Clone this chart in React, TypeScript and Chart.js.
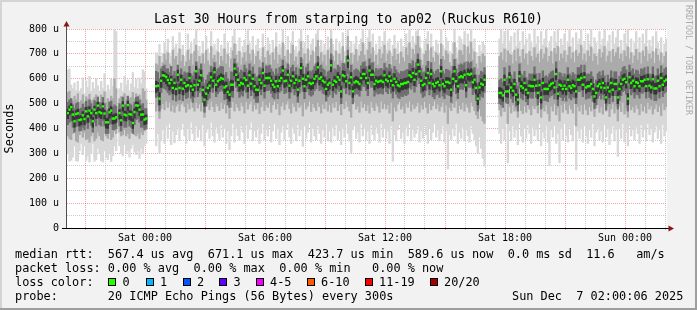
import React, { useEffect, useRef } from 'react';
import { Chart, registerables } from 'chart.js';

Chart.register(...registerables);

const _ = null;
type V = number | null;

// ---- time base (hours relative to Sat 00:00), 5-minute steps ----
const START_HOUR = -3.9;
const STEP_HOURS = 5 / 60;
const X_MIN = -3.9;
const X_MAX = 26.1;

// ---- median RTT (microseconds) per 5 min step ----
const MEDIAN: V[] = [
  462, 476, 486, 456, 429, 458, 461, 434, 436, 453,
  438, 469, 449, 472, 462, 429, 476, 462, 492, 466,
  462, 489, 460, 425, 425, 465, 472, 440, 440, 445,
  _, 462, 433, 492, 456, 453, 494, 458, 456, 422,
  466, 493, 492, 476, 456, 456, 436, 440, _, _,
  _, _, _, 570, 572, 520, 592, 614, 612, 607,
  595, 582, 596, 563, 583, 559, 616, 563, 596, 560,
  583, 570, 574, 603, 570, 556, 574, 630, 576, 592,
  614, 555, 516, 540, 563, 572, 606, 592, 626, 576,
  590, 596, 603, 599, 565, 570, 547, 536, 576, 576,
  641, 616, 596, 574, 583, 579, 603, 595, 572, 614,
  580, 600, 570, 556, 555, 596, 583, 623, 572, 603,
  603, 603, 592, 576, 567, 590, 570, 592, 603, 633,
  590, 592, 616, 572, 592, 610, 583, 596, 556, 592,
  643, 600, 570, 596, 610, 583, 579, 583, 600, 610,
  646, 600, 606, 592, 586, 559, 576, 583, 654, 576,
  592, 587, 606, 596, 549, 614, 610, 590, 673, 583,
  606, 549, 585, 590, 586, 579, 603, 619, 619, 603,
  583, 633, 616, 616, 579, 592, 587, 590, 592, 587,
  614, 596, 590, 610, 592, 574, 600, 587, 574, 570,
  579, 579, 583, 583, 587, 614, 608, 623, 596, 619,
  657, 630, 592, 574, 579, 603, 623, 583, 619, 579,
  570, 583, 587, 574, 630, 579, 570, 587, 587, 583,
  556, 600, 630, 590, 570, 606, 610, 606, 616, 574,
  619, 616, 620, 586, 596, 563, 520, 565, 580, 576,
  596, _, _, _, _, _, _, _, _, 543,
  543, 533, 596, 549, 549, 606, 565, 552, 579, 536,
  516, 610, 570, 563, 583, 556, 543, 572, 570, 570,
  596, 572, 543, 574, 525, 583, 559, 559, 559, 572,
  579, 583, 565, 619, 540, 576, 572, 559, 572, 559,
  596, 570, 563, 574, 570, 549, 596, 596, 603, 576,
  606, 565, 570, 570, 579, 559, 529, 543, 570, 579,
  565, 583, 563, 525, 565, 549, 583, 556, 579, 579,
  525, 559, 579, 596, 600, 586, 520, 606, 583, 592,
  570, 586, 583, 570, 590, 590, 596, 570, 598, 572,
  565, 598, 561, 561, 592, 570, 603, 576, 590, 596,
];

// ---- outer smoke: min / max ping ----
const MAX_PING: V[] = [
  636, 640, 575, 560, 583, 552, 590, 548, 560, 603,
  540, 592, 565, 610, 548, 585, 560, 600, 572, 545,
  590, 560, 620, 548, 575, 556, 598, 570, 800, 790,
  _, 560, 583, 548, 610, 575, 595, 552, 580, 625,
  565, 598, 560, 603, 580, 636, 628, 560, _, _,
  _, _, _, 705, 700, 738, 690, 700, 745, 715,
  760, 700, 690, 770, 725, 740, 700, 785, 718, 735,
  690, 705, 780, 720, 745, 700, 760, 800, 712, 730,
  695, 750, 705, 770, 720, 700, 790, 725, 740, 715,
  760, 698, 735, 720, 780, 705, 745, 690, 725, 770,
  800, 740, 710, 765, 700, 730, 755, 712, 800, 745,
  718, 770, 700, 735, 760, 722, 690, 780, 730, 705,
  765, 740, 700, 755, 720, 785, 705, 740, 725, 800,
  735, 712, 770, 700, 745, 790, 715, 730, 700, 760,
  800, 722, 745, 700, 775, 715, 740, 760, 705, 780,
  800, 730, 755, 712, 740, 700, 768, 725, 800, 738,
  715, 760, 700, 745, 720, 785, 710, 735, 800, 728,
  750, 705, 740, 770, 715, 738, 760, 800, 740, 720,
  765, 800, 745, 780, 712, 740, 700, 770, 728, 750,
  790, 715, 745, 760, 700, 735, 775, 720, 745, 705,
  760, 730, 712, 780, 740, 800, 725, 770, 745, 790,
  800, 770, 720, 700, 745, 760, 790, 715, 780, 730,
  712, 755, 740, 700, 800, 735, 720, 765, 750, 710,
  695, 745, 800, 725, 705, 770, 760, 740, 790, 715,
  780, 745, 800, 720, 760, 705, 690, 735, 710, 748,
  735, _, _, _, _, _, _, _, _, 760,
  800, 740, 790, 720, 800, 745, 770, 705, 785, 730,
  800, 750, 715, 790, 735, 760, 700, 780, 745, 725,
  800, 740, 770, 710, 790, 735, 760, 800, 720, 745,
  770, 705, 790, 745, 800, 725, 760, 735, 780, 715,
  745, 800, 730, 765, 710, 785, 740, 760, 800, 725,
  750, 715, 780, 740, 800, 720, 765, 745, 700, 790,
  735, 760, 800, 720, 745, 775, 710, 790, 740, 765,
  800, 730, 755, 715, 780, 740, 800, 725, 760, 705,
  745, 790, 720, 765, 700, 780, 740, 800, 715, 755,
  730, 770, 705, 790, 745, 720, 765, 700, 740, 760,
];

const MIN_PING: V[] = [
  300, 268, 272, 285, 330, 270, 268, 310, 340, 295,
  330, 272, 290, 265, 300, 340, 268, 275, 320, 300,
  270, 265, 310, 285, 275, 300, 268, 290, 330, 310,
  _, 330, 300, 290, 335, 300, 310, 285, 320, 335,
  305, 295, 310, 280, 320, 300, 330, 340, _, _,
  _, _, _, 330, 380, 302, 350, 395, 340, 410,
  360, 420, 335, 390, 342, 375, 405, 350, 395, 420,
  370, 340, 400, 355, 425, 380, 350, 410, 365, 395,
  350, 415, 330, 385, 400, 360, 425, 370, 345, 405,
  380, 355, 415, 365, 400, 340, 390, 315, 370, 420,
  345, 400, 372, 355, 410, 385, 340, 415, 360, 395,
  425, 350, 390, 365, 405, 340, 380, 420, 355, 395,
  370, 410, 345, 390, 420, 360, 400, 335, 385, 410,
  355, 395, 420, 365, 340, 405, 380, 350, 415, 370,
  395, 328, 410, 360, 385, 420, 345, 400, 370, 355,
  410, 380, 340, 395, 365, 420, 350, 390, 345, 405,
  370, 415, 355, 390, 335, 400, 365, 420, 380, 350,
  302, 395, 410, 360, 385, 345, 420, 370, 400, 355,
  390, 340, 415, 375, 355, 405, 380, 345, 420, 365,
  400, 360, 390, 340, 410, 268, 375, 350, 395, 415,
  360, 385, 340, 405, 370, 420, 350, 395, 365, 380,
  410, 345, 390, 360, 415, 375, 340, 400, 355, 385,
  420, 365, 395, 350, 380, 410, 345, 390, 237, 375,
  355, 400, 370, 420, 340, 385, 360, 405, 350, 395,
  370, 345, 410, 380, 355, 330, 300, 365, 320, 280,
  248, _, _, _, _, _, _, _, _, 380,
  340, 400, 355, 420, 262, 390, 350, 410, 365, 395,
  335, 420, 370, 345, 400, 360, 415, 380, 340, 405,
  370, 395, 350, 420, 330, 385, 360, 410, 345, 250,
  395, 365, 410, 340, 380, 262, 400, 355, 420, 370,
  345, 405, 375, 350, 415, 234, 390, 360, 400, 345,
  410, 370, 340, 395, 365, 420, 330, 385, 405, 355,
  390, 345, 415, 365, 400, 335, 380, 410, 350, 395,
  288, 400, 360, 420, 345, 385, 330, 410, 370, 395,
  355, 405, 380, 340, 415, 365, 395, 350, 420, 375,
  400, 345, 385, 410, 360, 395, 340, 415, 370, 390,
];

// ---- second smoke band ----
const HI2: V[] = [
  545, 550, 520, 510, 530, 515, 540, 505, 512, 535,
  505, 528, 520, 538, 510, 515, 525, 535, 530, 505,
  535, 518, 548, 505, 520, 512, 530, 520, 600, 560,
  _, 520, 528, 530, 540, 515, 530, 520, 525, 545,
  520, 540, 525, 535, 515, 560, 550, 515, _, _,
  _, _, _, 660, 655, 690, 650, 665, 700, 675,
  705, 660, 648, 715, 680, 690, 655, 720, 670, 695,
  650, 668, 715, 675, 700, 655, 710, 735, 668, 690,
  652, 700, 660, 715, 672, 655, 730, 680, 695, 668,
  708, 655, 690, 672, 720, 660, 698, 645, 680, 712,
  740, 695, 665, 710, 655, 685, 705, 668, 735, 700,
  672, 715, 658, 690, 710, 675, 648, 725, 685, 660,
  712, 695, 655, 705, 675, 728, 660, 695, 680, 745,
  690, 668, 715, 655, 700, 735, 670, 688, 655, 710,
  750, 678, 700, 655, 720, 670, 695, 712, 660, 728,
  755, 685, 705, 668, 695, 652, 715, 680, 760, 692,
  670, 712, 655, 700, 672, 730, 665, 690, 770, 682,
  702, 660, 695, 718, 670, 692, 710, 745, 695, 675,
  715, 748, 700, 725, 668, 695, 655, 718, 682, 700,
  735, 670, 700, 712, 655, 690, 720, 675, 698, 660,
  708, 685, 668, 725, 695, 745, 680, 718, 698, 735,
  770, 725, 675, 655, 698, 712, 738, 670, 725, 685,
  668, 705, 695, 655, 740, 690, 675, 712, 700, 665,
  650, 698, 745, 680, 660, 715, 712, 695, 735, 670,
  728, 700, 748, 675, 708, 660, 640, 690, 665, 700,
  690, _, _, _, _, _, _, _, _, 690,
  705, 675, 720, 665, 712, 700, 695, 660, 715, 670,
  720, 690, 665, 718, 680, 700, 655, 710, 690, 672,
  725, 685, 700, 665, 718, 680, 700, 725, 668, 690,
  710, 660, 722, 700, 730, 672, 700, 682, 712, 665,
  695, 728, 680, 705, 665, 715, 690, 702, 735, 675,
  700, 668, 712, 690, 728, 670, 700, 690, 655, 718,
  685, 705, 730, 668, 692, 710, 665, 718, 690, 705,
  725, 680, 700, 670, 712, 690, 728, 680, 705, 662,
  692, 718, 675, 705, 660, 712, 690, 728, 670, 700,
  680, 710, 662, 720, 695, 672, 705, 660, 690, 708,
];

const LO2: V[] = [
  370, 360, 355, 380, 385, 350, 345, 375, 390, 365,
  385, 355, 360, 345, 370, 395, 350, 360, 385, 370,
  355, 350, 380, 370, 360, 380, 355, 365, 390, 380,
  _, 385, 370, 375, 395, 370, 380, 360, 385, 400,
  375, 370, 380, 360, 385, 375, 390, 395, _, _,
  _, _, _, 470, 490, 440, 480, 500, 475, 510,
  485, 505, 470, 495, 465, 490, 500, 470, 498, 505,
  488, 465, 500, 478, 510, 485, 470, 505, 482, 498,
  470, 505, 445, 490, 500, 475, 510, 488, 468, 500,
  490, 472, 505, 480, 498, 462, 495, 440, 485, 508,
  470, 500, 485, 472, 505, 490, 462, 508, 478, 498,
  510, 470, 495, 478, 502, 460, 488, 510, 472, 495,
  485, 505, 465, 495, 510, 478, 500, 455, 490, 505,
  475, 498, 510, 480, 462, 502, 488, 470, 508, 485,
  495, 450, 505, 478, 490, 510, 468, 500, 485, 472,
  505, 488, 462, 498, 480, 510, 470, 495, 465, 502,
  485, 508, 472, 495, 455, 500, 480, 510, 488, 470,
  445, 498, 505, 478, 490, 465, 510, 485, 500, 472,
  495, 462, 508, 485, 472, 502, 490, 465, 510, 480,
  500, 478, 495, 462, 505, 430, 485, 470, 498, 508,
  478, 490, 462, 502, 485, 510, 470, 498, 480, 490,
  505, 465, 495, 478, 508, 485, 462, 500, 475, 492,
  510, 480, 498, 470, 488, 505, 465, 495, 420, 485,
  472, 500, 485, 510, 462, 492, 478, 505, 470, 498,
  485, 465, 505, 490, 472, 455, 440, 480, 450, 430,
  420, _, _, _, _, _, _, _, _, 475,
  450, 485, 468, 500, 420, 488, 462, 495, 470, 480,
  445, 500, 472, 460, 490, 465, 498, 478, 455, 492,
  480, 490, 462, 505, 445, 485, 470, 495, 460, 430,
  490, 470, 498, 455, 482, 430, 495, 465, 502, 475,
  460, 495, 478, 462, 500, 410, 488, 470, 495, 458,
  498, 475, 455, 488, 470, 505, 448, 482, 496, 465,
  488, 458, 500, 470, 492, 448, 478, 498, 462, 490,
  430, 490, 468, 505, 458, 482, 445, 498, 475, 488,
  465, 495, 480, 455, 500, 470, 490, 462, 505, 478,
  492, 458, 480, 498, 468, 490, 452, 502, 475, 488,
];

// ---- third smoke band ----
const HI3: V[] = [
  505, 515, 520, 495, 480, 500, 505, 478, 482, 498,
  485, 510, 490, 515, 500, 475, 512, 505, 525, 505,
  500, 525, 500, 470, 475, 505, 510, 485, 495, 490,
  _, 500, 480, 525, 495, 495, 530, 500, 495, 468,
  505, 525, 528, 515, 495, 500, 480, 480, _, _,
  _, _, _, 630, 625, 600, 640, 650, 655, 640,
  640, 625, 650, 615, 630, 612, 655, 620, 640, 615,
  628, 622, 625, 650, 620, 610, 628, 668, 625, 640,
  660, 605, 580, 595, 615, 625, 650, 640, 665, 630,
  640, 645, 650, 648, 615, 625, 600, 590, 628, 625,
  680, 660, 645, 625, 635, 628, 655, 640, 625, 660,
  630, 648, 620, 605, 610, 645, 632, 665, 622, 652,
  650, 655, 640, 628, 615, 640, 620, 645, 650, 675,
  640, 640, 660, 622, 645, 655, 630, 645, 605, 640,
  685, 650, 620, 645, 660, 632, 628, 635, 650, 660,
  690, 650, 655, 640, 635, 610, 628, 632, 700, 625,
  640, 635, 655, 648, 600, 662, 660, 640, 715, 632,
  655, 600, 635, 640, 635, 628, 652, 665, 668, 650,
  635, 680, 662, 665, 628, 642, 635, 640, 642, 636,
  662, 645, 640, 658, 640, 622, 650, 636, 625, 620,
  630, 628, 632, 635, 638, 662, 655, 672, 645, 665,
  700, 676, 642, 625, 628, 652, 670, 632, 665, 628,
  620, 632, 638, 625, 678, 630, 620, 638, 636, 632,
  608, 650, 678, 640, 622, 655, 660, 655, 665, 625,
  668, 662, 668, 636, 645, 615, 575, 615, 630, 625,
  645, _, _, _, _, _, _, _, _, 595,
  600, 585, 645, 598, 605, 652, 615, 600, 628, 585,
  570, 660, 620, 612, 630, 605, 595, 620, 618, 620,
  648, 620, 595, 622, 578, 632, 608, 612, 605, 620,
  628, 632, 612, 668, 590, 625, 622, 608, 620, 605,
  645, 620, 612, 625, 618, 600, 645, 645, 655, 625,
  655, 615, 620, 618, 628, 608, 580, 595, 620, 628,
  612, 632, 612, 575, 615, 598, 632, 605, 628, 628,
  575, 610, 628, 645, 650, 635, 570, 655, 632, 640,
  620, 635, 632, 618, 640, 638, 645, 620, 648, 620,
  612, 648, 610, 612, 640, 618, 652, 625, 640, 645,
];

const LO3: V[] = [
  415, 425, 430, 405, 385, 408, 410, 390, 392, 405,
  395, 420, 400, 425, 412, 385, 425, 410, 440, 415,
  410, 432, 410, 380, 380, 415, 420, 395, 395, 400,
  _, 410, 390, 435, 405, 405, 440, 410, 405, 380,
  415, 435, 440, 425, 405, 405, 395, 400, _, _,
  _, _, _, 525, 530, 470, 545, 565, 560, 555,
  545, 535, 548, 515, 535, 510, 565, 515, 548, 512,
  535, 520, 525, 555, 522, 505, 525, 580, 528, 545,
  565, 505, 465, 490, 515, 522, 558, 545, 575, 528,
  540, 548, 555, 550, 515, 520, 495, 485, 528, 525,
  590, 565, 548, 525, 535, 530, 555, 545, 522, 565,
  532, 550, 520, 505, 505, 548, 535, 572, 522, 552,
  552, 555, 542, 525, 518, 540, 520, 545, 552, 582,
  540, 545, 565, 522, 545, 560, 535, 548, 505, 542,
  592, 550, 520, 548, 560, 535, 530, 535, 552, 560,
  595, 552, 556, 542, 538, 510, 528, 535, 600, 525,
  545, 538, 556, 548, 500, 565, 560, 540, 620, 535,
  556, 500, 535, 540, 538, 530, 552, 570, 568, 552,
  532, 582, 566, 565, 530, 545, 538, 540, 542, 538,
  565, 548, 540, 560, 542, 522, 550, 538, 525, 520,
  530, 528, 535, 532, 538, 565, 558, 572, 546, 568,
  605, 580, 542, 525, 530, 552, 572, 535, 568, 528,
  520, 535, 538, 525, 580, 530, 520, 538, 535, 532,
  505, 550, 580, 540, 520, 556, 560, 556, 565, 525,
  568, 565, 570, 536, 545, 512, 470, 515, 530, 525,
  545, _, _, _, _, _, _, _, _, 500,
  495, 485, 548, 505, 500, 560, 520, 505, 532, 490,
  470, 562, 522, 515, 535, 508, 495, 525, 522, 522,
  548, 525, 495, 528, 478, 535, 512, 512, 508, 525,
  532, 535, 518, 570, 492, 528, 525, 512, 525, 510,
  548, 522, 515, 528, 522, 500, 548, 548, 555, 528,
  558, 518, 522, 522, 532, 510, 480, 495, 522, 532,
  518, 535, 515, 475, 518, 500, 535, 508, 532, 532,
  478, 512, 532, 548, 552, 538, 470, 558, 535, 545,
  522, 538, 535, 522, 542, 542, 548, 522, 550, 525,
  518, 550, 512, 512, 545, 522, 555, 528, 542, 548,
];

// ---- innermost (darkest) smoke band ----
const HI4: V[] = [
  478, 490, 500, 470, 445, 472, 478, 450, 452, 468,
  455, 485, 462, 488, 476, 445, 490, 476, 506, 480,
  476, 503, 475, 440, 442, 480, 488, 455, 458, 460,
  _, 476, 450, 508, 470, 468, 510, 472, 470, 440,
  480, 508, 506, 490, 470, 472, 452, 455, _, _,
  _, _, _, 590, 585, 545, 605, 630, 625, 620,
  615, 600, 610, 585, 600, 580, 635, 580, 615, 575,
  600, 590, 590, 622, 585, 575, 595, 650, 590, 610,
  635, 570, 540, 560, 580, 590, 625, 608, 645, 595,
  608, 615, 620, 615, 585, 588, 568, 555, 595, 592,
  660, 632, 615, 590, 600, 595, 625, 610, 590, 632,
  598, 618, 590, 575, 572, 615, 600, 640, 590, 622,
  620, 625, 610, 595, 585, 610, 590, 610, 620, 652,
  610, 610, 635, 590, 610, 628, 600, 615, 575, 610,
  662, 618, 590, 615, 628, 600, 598, 600, 620, 630,
  665, 618, 625, 610, 605, 580, 595, 600, 675, 595,
  610, 605, 625, 615, 570, 632, 630, 610, 692, 600,
  625, 570, 605, 610, 605, 598, 622, 638, 640, 620,
  600, 652, 635, 635, 598, 610, 605, 610, 612, 605,
  632, 615, 610, 628, 610, 592, 620, 605, 592, 590,
  598, 596, 602, 602, 605, 632, 628, 642, 615, 638,
  678, 650, 610, 592, 598, 622, 642, 600, 638, 598,
  590, 602, 605, 592, 650, 598, 590, 605, 605, 602,
  578, 620, 650, 610, 590, 625, 630, 625, 635, 592,
  640, 635, 640, 605, 615, 582, 540, 585, 600, 595,
  615, _, _, _, _, _, _, _, _, 565,
  562, 555, 615, 570, 572, 625, 585, 572, 598, 558,
  538, 630, 590, 585, 602, 576, 565, 592, 590, 590,
  615, 592, 565, 595, 548, 602, 580, 580, 578, 592,
  598, 602, 585, 640, 562, 596, 592, 580, 592, 578,
  615, 590, 585, 595, 590, 570, 615, 615, 622, 596,
  625, 585, 590, 590, 598, 580, 550, 565, 590, 598,
  585, 602, 585, 548, 585, 570, 602, 578, 598, 598,
  548, 580, 598, 615, 620, 605, 540, 625, 602, 612,
  590, 605, 602, 590, 610, 610, 615, 590, 618, 592,
  585, 618, 582, 582, 612, 590, 622, 596, 610, 615,
];

const LO4: V[] = [
  440, 455, 462, 432, 405, 438, 440, 410, 415, 430,
  415, 448, 425, 450, 440, 405, 455, 440, 470, 445,
  440, 465, 438, 402, 400, 442, 450, 418, 420, 425,
  _, 438, 412, 470, 432, 430, 472, 435, 432, 400,
  442, 470, 470, 452, 432, 435, 415, 418, _, _,
  _, _, _, 545, 550, 495, 565, 590, 588, 580,
  570, 555, 570, 540, 560, 535, 590, 540, 572, 535,
  560, 545, 550, 578, 548, 530, 550, 600, 552, 565,
  590, 530, 490, 515, 540, 548, 582, 565, 600, 550,
  565, 572, 578, 575, 540, 548, 520, 510, 550, 552,
  612, 590, 572, 550, 560, 552, 578, 570, 548, 590,
  555, 575, 545, 530, 532, 572, 558, 598, 548, 578,
  578, 580, 568, 552, 545, 565, 548, 568, 578, 605,
  565, 570, 590, 548, 568, 585, 560, 572, 530, 568,
  615, 575, 548, 572, 585, 560, 555, 560, 575, 585,
  618, 575, 582, 568, 562, 535, 552, 558, 628, 552,
  568, 562, 582, 572, 525, 590, 585, 565, 645, 558,
  582, 525, 560, 565, 562, 555, 578, 595, 595, 578,
  560, 608, 592, 592, 555, 568, 562, 565, 568, 562,
  590, 572, 565, 585, 568, 550, 576, 562, 550, 545,
  555, 555, 560, 558, 562, 590, 585, 598, 572, 595,
  632, 605, 568, 550, 555, 578, 598, 558, 595, 555,
  545, 558, 562, 550, 605, 555, 545, 562, 562, 558,
  530, 575, 605, 565, 545, 582, 585, 582, 592, 550,
  595, 590, 595, 562, 572, 538, 495, 540, 555, 550,
  572, _, _, _, _, _, _, _, _, 522,
  520, 510, 572, 528, 525, 582, 542, 530, 555, 512,
  495, 588, 548, 540, 560, 532, 520, 550, 548, 548,
  572, 550, 520, 552, 502, 560, 535, 538, 535, 550,
  555, 560, 542, 595, 518, 552, 550, 538, 550, 535,
  572, 548, 540, 552, 548, 525, 572, 572, 580, 555,
  582, 542, 548, 548, 555, 535, 505, 520, 548, 555,
  542, 560, 540, 502, 542, 525, 560, 532, 555, 555,
  500, 535, 555, 572, 578, 562, 495, 582, 560, 568,
  548, 562, 560, 548, 568, 568, 572, 548, 575, 550,
  542, 575, 538, 538, 568, 548, 580, 552, 568, 572,
];

// ---- axes ----
const X_TICK_HOURS = [-3, -2, -1, 0, 1, 2, 3, 4, 5, 6, 7, 8, 9, 10, 11, 12, 13, 14, 15, 16, 17, 18, 19, 20, 21, 22, 23, 24, 25, 26];
const X_TICK_LABELS: Record<number, string> = { 0: 'Sat 00:00', 6: 'Sat 06:00', 12: 'Sat 12:00', 18: 'Sat 18:00', 24: 'Sun 00:00' };
const Y_TICK_VALUES = [0, 50, 100, 150, 200, 250, 300, 350, 400, 450, 500, 550, 600, 650, 700, 750, 800];
const Y_TICK_LABELS: Record<number, string> = { 0: '0', 100: '100 u', 200: '200 u', 300: '300 u', 400: '400 u', 500: '500 u', 600: '600 u', 700: '700 u', 800: '800 u' };

// ---- texts ----
const TITLE = 'Last 30 Hours from starping to ap02 (Ruckus R610)';
const Y_TITLE = 'Seconds';
const LEGEND_RTT = 'median rtt:  567.4 us avg  671.1 us max  423.7 us min  589.6 us now  0.0 ms sd  11.6   am/s';
const LEGEND_LOSS = 'packet loss: 0.00 % avg  0.00 % max  0.00 % min   0.00 % now';
const LEGEND_COLOR = 'loss color:';
const LOSS_LABELS = ['0', '1', '2', '3', '4-5', '6-10', '11-19', '20/20'];
const LOSS_COLORS = ['#26ff00', '#00b8ff', '#0059ff', '#6000ff', '#f000ff', '#ff5a00', '#ff0000', '#a10000'];
const LOSS_BOX_X = [108, 145.5, 182.5, 219, 256, 307, 365, 430];
const LOSS_TEXT_X = [122.5, 160, 197, 233.5, 270, 321, 379, 444];
const PROBE = 'probe:       20 ICMP Echo Pings (56 Bytes) every 300s';
const STAMP = 'Sun Dec  7 02:00:06 2025';
const WATERMARK = 'RRDTOOL / TOBI OETIKER';

const MONO = "'DejaVu Sans Mono', monospace";
const MAJOR_GRID = 'rgba(225, 95, 95, 0.55)';
const MINOR_GRID = 'rgba(150, 150, 150, 0.5)';

function timeOf(i: number) {
  return START_HOUR + (i + 0.5) * STEP_HOURS;
}

function band(lo: V[], hi: V[]) {
  const out: { x: number; y: [number, number] }[] = [];
  for (let i = 0; i < lo.length; i++) {
    const a = lo[i];
    const b = hi[i];
    if (a != null && b != null) out.push({ x: timeOf(i), y: [a, b] });
  }
  return out;
}

function medianMarks(m: V[]) {
  const out: { x: number; y: [number, number] }[] = [];
  for (let i = 0; i < m.length; i++) {
    const v = m[i];
    if (v != null) out.push({ x: timeOf(i), y: [v - 3.5, v + 3.5] });
  }
  return out;
}

const framePlugin = {
  id: 'rrdFrame',
  beforeDraw(chart: any) {
    const { ctx, chartArea: a, width, height } = chart;
    ctx.save();
    ctx.fillStyle = '#f2f2f2';
    ctx.fillRect(0, 0, width, height);
    ctx.fillStyle = '#d4d4d4';
    ctx.fillRect(0, 0, width, 2);
    ctx.fillRect(0, 0, 2, height);
    ctx.fillStyle = '#9e9e9e';
    ctx.fillRect(0, height - 2, width, 2);
    ctx.fillRect(width - 2, 0, 2, height);
    ctx.fillStyle = '#ffffff';
    ctx.fillRect(a.left, a.top, a.right - a.left, a.bottom - a.top);
    ctx.restore();
  },
  afterDraw(chart: any) {
    const { ctx, chartArea: a } = chart;
    ctx.save();
    ctx.lineWidth = 1;
    ctx.strokeStyle = '#505050';
    ctx.beginPath();
    ctx.moveTo(a.left - 0.5, a.top - 3);
    ctx.lineTo(a.left - 0.5, a.bottom + 1);
    ctx.stroke();
    ctx.strokeStyle = '#000000';
    ctx.beginPath();
    ctx.moveTo(a.left - 5, a.bottom + 0.5);
    ctx.lineTo(a.right + 3, a.bottom + 0.5);
    ctx.stroke();
    ctx.fillStyle = '#8b1414';
    ctx.beginPath();
    ctx.moveTo(a.left - 0.5, a.top - 8);
    ctx.lineTo(a.left - 3.5, a.top - 2.5);
    ctx.lineTo(a.left + 2.5, a.top - 2.5);
    ctx.closePath();
    ctx.fill();
    ctx.beginPath();
    ctx.moveTo(a.right + 7, a.bottom + 0.5);
    ctx.lineTo(a.right + 1.5, a.bottom - 2.5);
    ctx.lineTo(a.right + 1.5, a.bottom + 3.5);
    ctx.closePath();
    ctx.fill();
    ctx.restore();
  },
};

const barCommon = {
  type: 'bar' as const,
  grouped: false,
  barPercentage: 1,
  categoryPercentage: 1,
  borderWidth: 0,
};

export default function App() {
  const ref = useRef<HTMLCanvasElement | null>(null);

  useEffect(() => {
    if (!ref.current) return;
    const gridColor = (ctx: any) => {
      const v = ctx.tick ? ctx.tick.value : null;
      if (v == null) return 'rgba(0,0,0,0)';
      return v % 3 === 0 ? MAJOR_GRID : MINOR_GRID;
    };
    const chart = new Chart(ref.current, {
      type: 'bar',
      data: {
        datasets: [
          { ...barCommon, label: 'median', data: medianMarks(MEDIAN) as any, backgroundColor: '#22ff00' },
          { ...barCommon, label: 'core', data: band(LO4, HI4) as any, backgroundColor: '#363636' },
          { ...barCommon, label: 'dark', data: band(LO3, HI3) as any, backgroundColor: '#707070' },
          { ...barCommon, label: 'mid', data: band(LO2, HI2) as any, backgroundColor: '#ababab' },
          { ...barCommon, label: 'outer', data: band(MIN_PING, MAX_PING) as any, backgroundColor: '#d8d8d8' },
        ],
      },
      options: {
        responsive: false,
        animation: false,
        events: [],
        layout: { padding: { left: 0, right: 30, top: 29, bottom: 67 } },
        plugins: {
          legend: { display: false },
          tooltip: { enabled: false },
          title: { display: false },
        },
        scales: {
          x: {
            type: 'linear',
            min: X_MIN,
            max: X_MAX,
            bounds: 'data',
            offset: false,
            z: 1,
            afterBuildTicks: (s: any) => {
              s.ticks = X_TICK_HOURS.map((v) => ({ value: v }));
            },
            afterFit: (s: any) => {
              s.height = 15;
            },
            grid: {
              offset: false,
              color: gridColor,
              lineWidth: 1,
              drawTicks: true,
              tickLength: 2,
              tickColor: gridColor,
            },
            border: { display: false, dash: [1, 1] },
            ticks: {
              autoSkip: false,
              maxRotation: 0,
              minRotation: 0,
              padding: 2,
              color: '#000',
              font: { family: MONO, size: 10 },
              callback: (v: any) => X_TICK_LABELS[Number(v)] ?? '',
            },
          },
          y: {
            type: 'linear',
            min: 0,
            max: 800,
            z: 1,
            afterBuildTicks: (s: any) => {
              s.ticks = Y_TICK_VALUES.map((v) => ({ value: v }));
            },
            afterFit: (s: any) => {
              s.width = 67;
            },
            grid: {
              color: (ctx: any) => {
                const v = ctx.tick ? ctx.tick.value : null;
                if (v == null) return 'rgba(0,0,0,0)';
                return v % 100 === 0 ? MAJOR_GRID : MINOR_GRID;
              },
              lineWidth: 1,
              drawTicks: false,
            },
            border: { display: false, dash: [1, 1] },
            ticks: {
              autoSkip: false,
              padding: 8,
              color: '#000',
              font: { family: MONO, size: 10 },
              callback: (v: any) => Y_TICK_LABELS[Number(v)] ?? '',
            },
            title: {
              display: true,
              text: Y_TITLE,
              color: '#000',
              font: { family: MONO, size: 11.86 },
              padding: { top: 3, bottom: 0 },
            },
          },
        },
      } as any,
      plugins: [framePlugin],
    });
    return () => chart.destroy();
  }, []);

  const text: React.CSSProperties = {
    position: 'absolute',
    fontFamily: MONO,
    fontSize: 11.86,
    lineHeight: '14px',
    whiteSpace: 'pre',
    color: '#000',
    margin: 0,
  };

  return (
    <div style={{ position: 'absolute', left: 0, top: 0, width: 697, height: 310, overflow: 'hidden' }}>
      <canvas ref={ref} width={697} height={310} style={{ position: 'absolute', left: 0, top: 0, width: 697, height: 310 }} />
      <div
        style={{
          position: 'absolute',
          left: 0,
          top: 10.7,
          width: 697,
          textAlign: 'center',
          fontFamily: MONO,
          fontSize: 13.2,
          lineHeight: '16px',
          whiteSpace: 'pre',
          color: '#000',
        }}
      >
        {TITLE}
      </div>
      <div
        style={{
          position: 'absolute',
          left: 683.5,
          top: 5,
          writingMode: 'vertical-rl',
          fontFamily: MONO,
          fontSize: 8.3,
          lineHeight: '9px',
          whiteSpace: 'pre',
          color: '#ababab',
        }}
      >
        {WATERMARK}
      </div>
      <div style={{ ...text, left: 15, top: 247 }}>{LEGEND_RTT}</div>
      <div style={{ ...text, left: 15, top: 261 }}>{LEGEND_LOSS}</div>
      <div style={{ ...text, left: 15, top: 275 }}>{LEGEND_COLOR}</div>
      {LOSS_LABELS.map((lbl, i) => (
        <React.Fragment key={lbl}>
          <div
            style={{
              position: 'absolute',
              left: LOSS_BOX_X[i],
              top: 278,
              width: 8,
              height: 8,
              boxSizing: 'border-box',
              border: '1px solid #000',
              background: LOSS_COLORS[i],
            }}
          />
          <div style={{ ...text, left: LOSS_TEXT_X[i], top: 275 }}>{lbl}</div>
        </React.Fragment>
      ))}
      <div style={{ ...text, left: 15, top: 288.5 }}>{PROBE}</div>
      <div style={{ ...text, left: 512, top: 288.5 }}>{STAMP}</div>
    </div>
  );
}
